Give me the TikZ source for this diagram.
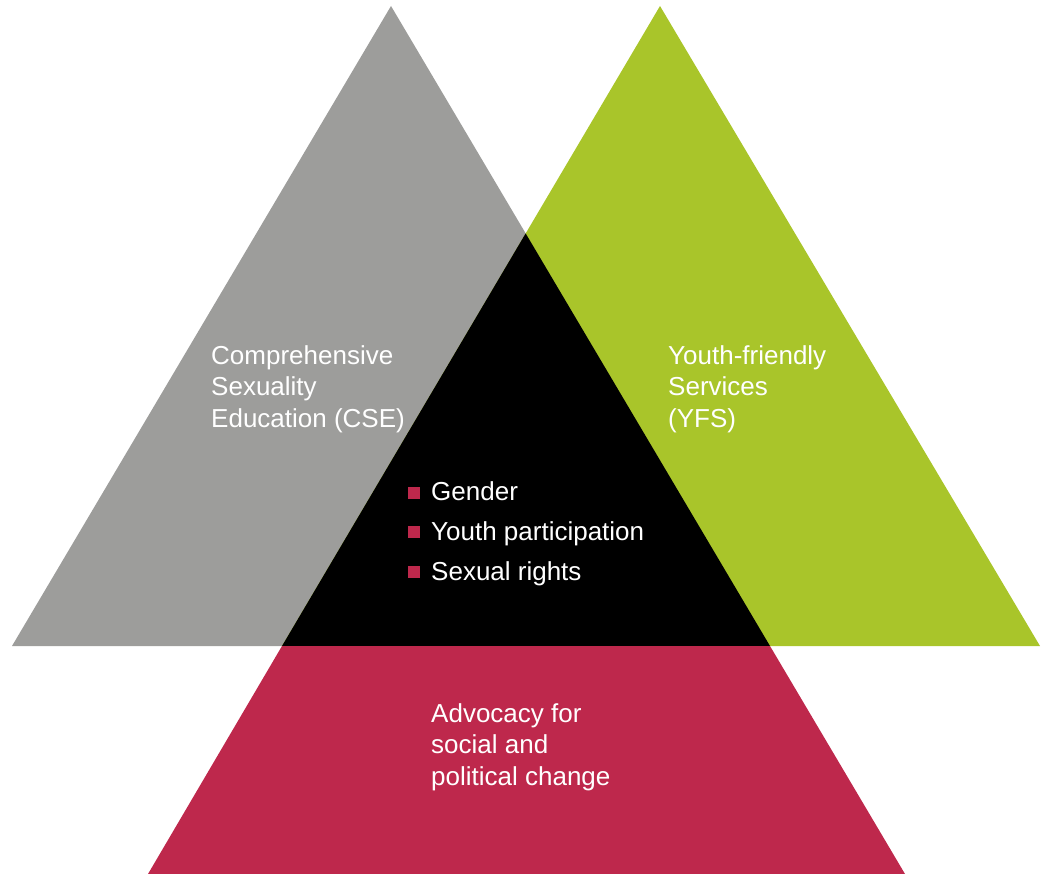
\documentclass[tikz,border=0pt]{standalone}
\usepackage{fontspec}
\setmainfont{Liberation Sans}
\usepackage{tkz-euclide}
\usepackage{xcolor}
\definecolor{cseGray}{HTML}{9D9D9B}
\definecolor{yfsGreen}{HTML}{A9C52A}
\definecolor{advRed}{HTML}{BE284C}

\begin{document}
\begin{tikzpicture}[x=1pt,y=-1pt,
    lbl/.style={text=white,font=\fontsize{26}{31.5}\selectfont,
      align=left,anchor=base west,inner sep=0pt},
    bullet/.style={fill=advRed,minimum size=12.5pt,inner sep=0pt}]
    \useasboundingbox (0,0) rectangle (1048,874);
    \tkzDefPoints{391/6/A,12/646/B,770/646/C,660/6/D,282/646/E,1040/646/F,
      148/874/G,905/874/H}
    \coordinate (O) at (intersection of A--C and D--E);
    \fill[cseGray] (A) -- (B) -- (C) -- cycle;
    \fill[yfsGreen] (D) -- (E) -- (F) -- cycle;
    \fill[black] (O) -- (E) -- (C) -- cycle;
    \fill[advRed] (E) -- (C) -- (H) -- (G) -- cycle;
    % base anchor sits on the last line
    \node[lbl] (cse) at (211,427) {Comprehensive\\Sexuality\\Education (CSE)};
    \node[lbl] (yfs) at (668,427) {Youth-friendly\\Services\\(YFS)};
    \node[lbl] (adv) at (431,785) {Advocacy for\\social and\\political change};
    \node[bullet] (b1) at (414,493) {};
    \node[bullet] (b2) at (414,532) {};
    \node[bullet] (b3) at (414,572) {};
    \node[lbl] (gender) at (431,500) {Gender};
    \node[lbl] (youth) at (431,540) {Youth participation};
    \node[lbl] (rights) at (431,580) {Sexual rights};
  \end{tikzpicture}
\end{document}
